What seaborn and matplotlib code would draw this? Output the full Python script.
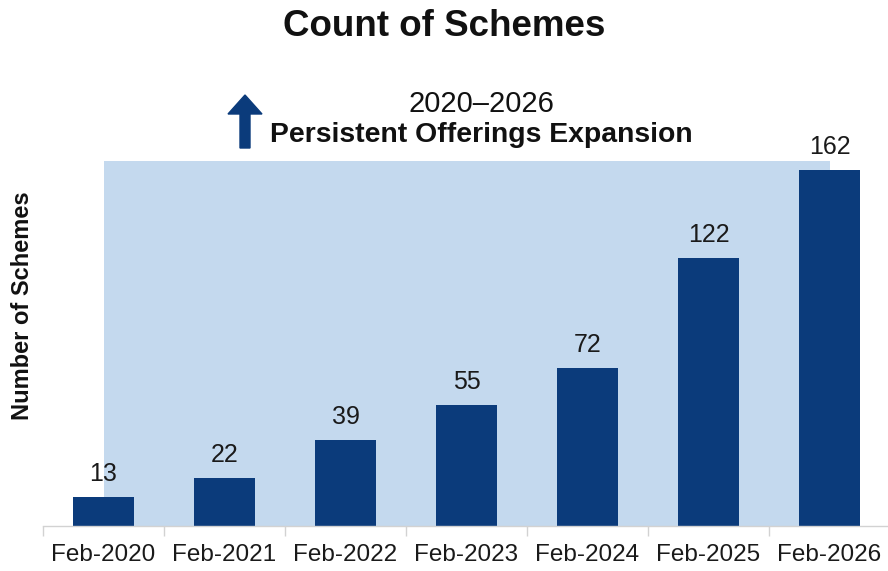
import matplotlib
matplotlib.use("Agg")
import matplotlib.pyplot as plt
from matplotlib.patches import FancyArrow
from matplotlib.transforms import IdentityTransform
import seaborn as sns

# Scheme counts by snapshot month
periods = ["Feb-2020", "Feb-2021", "Feb-2022", "Feb-2023", "Feb-2024", "Feb-2025", "Feb-2026"]
scheme_counts = [13, 22, 39, 55, 72, 122, 162]
band_top = 166

title = "Count of Schemes"
y_label = "Number of Schemes"
span_label = "2020\u20132026"
trend_label = "Persistent Offerings Expansion"

NAVY = "#0B3B7B"
SHADE = "#C4D9EE"
GRID_GRAY = "#D2D2D2"

sns.set_theme(style="white")
plt.rcParams["font.family"] = ["Liberation Sans", "DejaVu Sans"]

fig = plt.figure(figsize=(8.88, 5.71), dpi=100)
ax = fig.add_axes([43 / 888, 45 / 571, 847 / 888, 437 / 571])

# Shaded band spanning the first to last period
first, last = 0, len(periods) - 1
ax.fill_between([first, last], 0, band_top, color=SHADE, linewidth=0, zorder=0)

sns.barplot(x=periods, y=scheme_counts, color=NAVY, saturation=1, width=0.5,
            linewidth=0, ax=ax, zorder=2)

for i, v in enumerate(scheme_counts):
    ax.annotate(f"{v}", xy=(i, v), xytext=(0, 8), textcoords="offset points",
                ha="center", va="bottom", fontsize=18, color="#1a1a1a", zorder=3)

ax.set_xlim(-0.5, len(periods) - 0.5)
ax.set_ylim(0, 199)
ax.set_yticks([])
ax.set_ylabel("")
for side in ["left", "top", "right"]:
    ax.spines[side].set_visible(False)
ax.spines["bottom"].set_color(GRID_GRAY)
ax.spines["bottom"].set_linewidth(1)

# Category boundaries as minor ticks, labels centred without marks
ax.set_xticks([i + 0.5 for i in range(-1, len(periods))], minor=True)
ax.tick_params(axis="x", which="minor", length=7, width=1, color=GRID_GRAY, bottom=True)
ax.tick_params(axis="x", which="major", length=0, pad=13, labelsize=17.5, labelcolor="#1a1a1a")

fig.text(0.5, 1 - 27 / 571, title, ha="center", va="center",
         fontsize=26.5, fontweight="bold", color="#111111")
fig.text(23 / 888, 1 - 306 / 571, y_label, ha="center", va="center", rotation=90,
         fontsize=17, fontweight="bold", color="#111111")
fig.text(481 / 888, 1 - 104 / 571, span_label, ha="center", va="center",
         fontsize=21, color="#111111")
fig.text(481 / 888, 1 - 135 / 571, trend_label, ha="center", va="center",
         fontsize=20.4, fontweight="bold", color="#111111")

# Upward arrow beside the trend note
arrow = FancyArrow(245, 571 - 148, 0, 53, width=10, head_width=34, head_length=19,
                   length_includes_head=True, color=NAVY, transform=IdentityTransform())
fig.add_artist(arrow)

fig.savefig("out.png", dpi=100)
